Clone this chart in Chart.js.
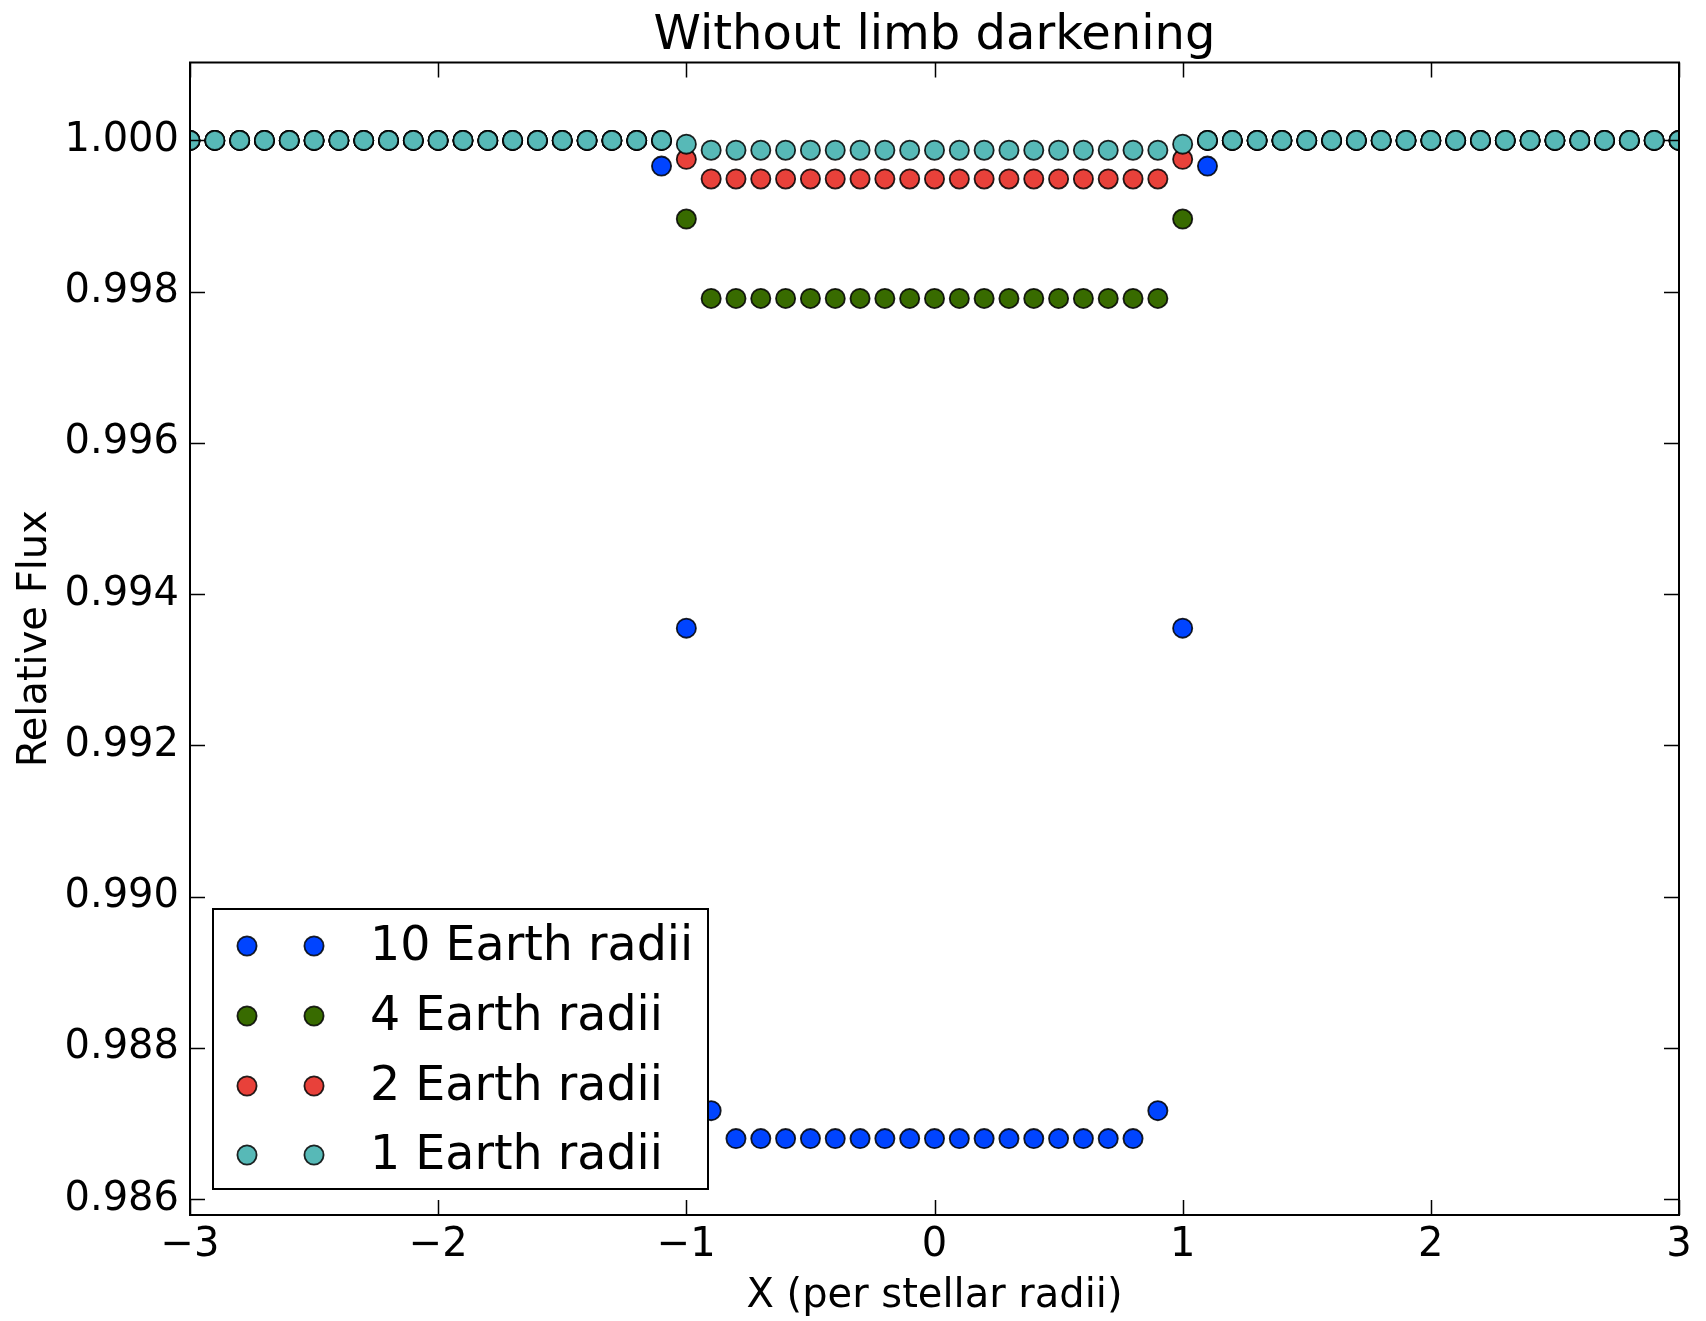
<!DOCTYPE html>
<html>
<head>
<meta charset="utf-8">
<title>Without limb darkening</title>
<script src="https://cdn.jsdelivr.net/npm/chart.js@4.4.1/dist/chart.umd.min.js"></script>
<style>
  html, body { margin: 0; padding: 0; background: #fff; }
  canvas { display: block; }
</style>
</head>
<body>
<canvas id="transitChart" width="1706" height="1321"></canvas>
<script>
// positions across the star, in stellar radii
const xValues = [
  -3.0, -2.9, -2.8, -2.7, -2.6, -2.5, -2.4, -2.3, -2.2, -2.1,
  -2.0, -1.9, -1.8, -1.7, -1.6, -1.5, -1.4, -1.3, -1.2, -1.1,
  -1.0, -0.9, -0.8, -0.7, -0.6, -0.5, -0.4, -0.3, -0.2, -0.1,
  0.0, 0.1, 0.2, 0.3, 0.4, 0.5, 0.6, 0.7, 0.8, 0.9,
  1.0, 1.1, 1.2, 1.3, 1.4, 1.5, 1.6, 1.7, 1.8, 1.9,
  2.0, 2.1, 2.2, 2.3, 2.4, 2.5, 2.6, 2.7, 2.8, 2.9,
  3.0
];

// relative flux for each planet size
const flux10 = [
  1, 1, 1, 1, 1, 1, 1, 1, 1, 1,
  1, 1, 1, 1, 1, 1, 1, 1, 1, 0.99966,
  0.99355, 0.98717, 0.98680, 0.98680, 0.98680, 0.98680, 0.98680, 0.98680, 0.98680, 0.98680,
  0.98680, 0.98680, 0.98680, 0.98680, 0.98680, 0.98680, 0.98680, 0.98680, 0.98680, 0.98717,
  0.99355, 0.99966, 1, 1, 1, 1, 1, 1, 1, 1,
  1, 1, 1, 1, 1, 1, 1, 1, 1, 1,
  1
];
const flux4 = [
  1, 1, 1, 1, 1, 1, 1, 1, 1, 1,
  1, 1, 1, 1, 1, 1, 1, 1, 1, 1,
  0.99896, 0.99791, 0.99791, 0.99791, 0.99791, 0.99791, 0.99791, 0.99791, 0.99791, 0.99791,
  0.99791, 0.99791, 0.99791, 0.99791, 0.99791, 0.99791, 0.99791, 0.99791, 0.99791, 0.99791,
  0.99896, 1, 1, 1, 1, 1, 1, 1, 1, 1,
  1, 1, 1, 1, 1, 1, 1, 1, 1, 1,
  1
];
const flux2 = [
  1, 1, 1, 1, 1, 1, 1, 1, 1, 1,
  1, 1, 1, 1, 1, 1, 1, 1, 1, 1,
  0.99975, 0.99949, 0.99949, 0.99949, 0.99949, 0.99949, 0.99949, 0.99949, 0.99949, 0.99949,
  0.99949, 0.99949, 0.99949, 0.99949, 0.99949, 0.99949, 0.99949, 0.99949, 0.99949, 0.99949,
  0.99975, 1, 1, 1, 1, 1, 1, 1, 1, 1,
  1, 1, 1, 1, 1, 1, 1, 1, 1, 1,
  1
];
const flux1 = [
  1, 1, 1, 1, 1, 1, 1, 1, 1, 1,
  1, 1, 1, 1, 1, 1, 1, 1, 1, 1,
  0.99995, 0.99987, 0.99987, 0.99987, 0.99987, 0.99987, 0.99987, 0.99987, 0.99987, 0.99987,
  0.99987, 0.99987, 0.99987, 0.99987, 0.99987, 0.99987, 0.99987, 0.99987, 0.99987, 0.99987,
  0.99995, 1, 1, 1, 1, 1, 1, 1, 1, 1,
  1, 1, 1, 1, 1, 1, 1, 1, 1, 1,
  1
];

const seriesNames = ["10 Earth radii", "4 Earth radii", "2 Earth radii", "1 Earth radii"];
const seriesColors = ["#0044ff", "#386b00", "#e8413a", "#57b9b7"];

const xTicks = [-3, -2, -1, 0, 1, 2, 3];
const yTicks = [0.986, 0.988, 0.990, 0.992, 0.994, 0.996, 0.998, 1.000];

const titleText = "Without limb darkening";

const FONT = "'DejaVu Sans', 'Liberation Sans', sans-serif";
const POINT_R = 9.6;
const POINT_BORDER = 1.8;

function toPoints(ys) {
  return xValues.map((x, i) => ({ x: x, y: ys[i] }));
}

const allFlux = [flux10, flux4, flux2, flux1];

// frame with inward ticks on all sides, title over the axes, matplotlib-style legend
const framePlugin = {
  id: "frame",
  afterDatasetsDraw(chart) {
    const ctx = chart.ctx;
    const a = chart.chartArea;
    const xs = chart.scales.x;
    const ys = chart.scales.y;
    const tl = 15;
    ctx.save();
    ctx.strokeStyle = "#000";
    ctx.lineWidth = 1.5;
    ctx.beginPath();
    xTicks.forEach(v => {
      const px = Math.round(xs.getPixelForValue(v)) + 0.5;
      ctx.moveTo(px, a.bottom); ctx.lineTo(px, a.bottom - tl);
      ctx.moveTo(px, a.top); ctx.lineTo(px, a.top + tl);
    });
    yTicks.forEach(v => {
      const py = Math.round(ys.getPixelForValue(v)) + 0.5;
      ctx.moveTo(a.left, py); ctx.lineTo(a.left + tl, py);
      ctx.moveTo(a.right, py); ctx.lineTo(a.right - tl, py);
    });
    ctx.stroke();
    ctx.lineWidth = 2;
    ctx.strokeRect(a.left, a.top, a.right - a.left, a.bottom - a.top);

    // title, centred over the plot area
    ctx.fillStyle = "#000";
    ctx.font = "48px " + FONT;
    ctx.textAlign = "center";
    ctx.textBaseline = "middle";
    ctx.fillText(titleText, (a.left + a.right) / 2, 37);

    // legend
    const box = { left: 213, top: 909, right: 708, bottom: 1189 };
    ctx.fillStyle = "#fff";
    ctx.fillRect(box.left, box.top, box.right - box.left, box.bottom - box.top);
    ctx.strokeRect(box.left, box.top, box.right - box.left, box.bottom - box.top);
    const rowY = [946, 1016, 1086, 1155];
    ctx.font = "47.5px " + FONT;
    ctx.textBaseline = "middle";
    ctx.textAlign = "left";
    seriesNames.forEach((name, i) => {
      [247, 314].forEach(mx => {
        ctx.beginPath();
        ctx.arc(mx, rowY[i], POINT_R, 0, Math.PI * 2);
        ctx.fillStyle = seriesColors[i];
        ctx.fill();
        ctx.lineWidth = POINT_BORDER;
        ctx.strokeStyle = "rgba(0,0,0,0.85)";
        ctx.stroke();
      });
      ctx.fillStyle = "#000";
      ctx.fillText(name, 370, rowY[i] + 2);
    });
    ctx.restore();
  }
};

new Chart(document.getElementById("transitChart"), {
  type: "scatter",
  data: {
    datasets: seriesNames.map((name, i) => ({
      label: name,
      data: toPoints(allFlux[i]),
      backgroundColor: seriesColors[i],
      borderColor: "rgba(0,0,0,0.85)",
      borderWidth: POINT_BORDER,
      pointRadius: POINT_R,
      pointHoverRadius: POINT_R,
      showLine: false,
      clip: 0,
      // later series drawn on top, as in the original
      order: seriesNames.length - i
    }))
  },
  options: {
    responsive: false,
    animation: false,
    devicePixelRatio: 1,
    layout: { padding: { left: 0, right: 27, top: 62.5, bottom: 0 } },
    plugins: {
      legend: { display: false },
      tooltip: { enabled: false },
      title: { display: false }
    },
    scales: {
      x: {
        type: "linear",
        min: -3,
        max: 3,
        grid: { display: false, drawTicks: false },
        border: { display: false },
        afterBuildTicks: s => { s.ticks = xTicks.map(v => ({ value: v })); },
        afterFit: s => { s.height = 106; },
        ticks: {
          autoSkip: false,
          maxRotation: 0,
          padding: 7,
          color: "#000",
          font: { family: FONT, size: 40 },
          callback: v => (v < 0 ? "\u2212" + Math.abs(v) : String(v))
        },
        title: {
          display: true,
          text: "X (per stellar radii)",
          color: "#000",
          font: { family: FONT, size: 40 },
          padding: { top: 0, bottom: 0 }
        }
      },
      y: {
        type: "linear",
        min: 0.98579,
        max: 1.00103,
        grid: { display: false, drawTicks: false },
        border: { display: false },
        afterBuildTicks: s => { s.ticks = yTicks.map(v => ({ value: v })); },
        afterFit: s => { s.width = 190; },
        ticks: {
          autoSkip: false,
          padding: 11,
          color: "#000",
          font: { family: FONT, size: 40 },
          callback: v => v.toFixed(3)
        },
        title: {
          display: true,
          text: "Relative Flux",
          color: "#000",
          font: { family: FONT, size: 40 },
          padding: { top: 12, bottom: 0 }
        }
      }
    }
  },
  plugins: [framePlugin]
});
</script>
</body>
</html>
